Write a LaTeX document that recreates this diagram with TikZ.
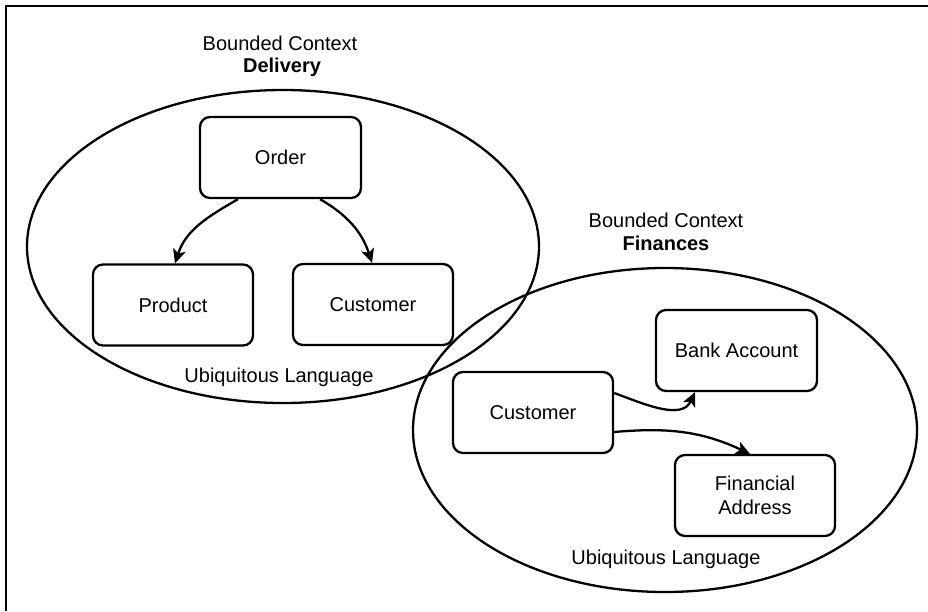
\documentclass[tikz,border=0pt]{standalone}
\usepackage{fontspec}
\setmainfont{Liberation Sans}
\usetikzlibrary{arrows.meta}
\begin{document}
\begin{tikzpicture}[x=1pt,y=1pt,
  entity/.style={draw, line width=2.3pt, rounded corners=10pt, minimum width=161pt, minimum height=81pt, inner sep=2pt, align=center, font=\fontsize{20}{24}\selectfont},
  ctx/.style={draw, line width=2.3pt},
  lbl/.style={font=\fontsize{20}{24}\selectfont, inner sep=0pt, anchor=base},
  rel/.style={line width=2.3pt, -{Stealth[length=14pt,width=13pt,inset=3.5pt]}}
]
\useasboundingbox (0,0) rectangle (928,-611);
\draw[line width=2.6pt] (5.8,-611) -- (5.8,-5.8) -- (928,-5.8);

% contexts
\draw[ctx] (283,-246.5) ellipse [x radius=256pt, y radius=156.5pt];
\draw[ctx] (665,-430) ellipse [x radius=252pt, y radius=162pt];

% labels
\node[lbl] (t1a) at (280,-50) {Bounded Context};
\node[lbl] (t1b) at (282,-72) {\bfseries Delivery};
\node[lbl] (u1) at (279,-382) {Ubiquitous Language};
\node[lbl] (t2a) at (666,-227) {Bounded Context};
\node[lbl] (t2b) at (666,-250) {\bfseries Finances};
\node[lbl] (u2) at (666,-564) {Ubiquitous Language};

% entities
\node[entity] (order) at (280.5,-157.5) {Order};
\node[entity, minimum width=160pt] (product) at (173,-305) {Product};
\node[entity, minimum width=160pt] (cust1) at (373,-304.5) {Customer};
\node[entity, minimum width=160pt] (cust2) at (533,-412.5) {Customer};
\node[entity] (bank) at (736.5,-350.5) {Bank Account};
\node[entity, minimum width=160pt] (fin) at (755,-495.5) {Financial\\Address};

% relations
\draw[rel] ([xshift=-42.5pt]order.south) to[out=-150,in=72] ([xshift=2pt]product.north);
\draw[rel] ([xshift=39.5pt]order.south) to[out=-30,in=108] ([xshift=-1pt]cust1.north);
\draw[rel] ([yshift=19.5pt]cust2.east) to[out=-20,in=-115] ([xshift=-41.5pt]bank.south);
\draw[rel] ([yshift=-19.5pt]cust2.east) to[out=5,in=155] ([xshift=-5pt]fin.north);
\end{tikzpicture}
\end{document}
